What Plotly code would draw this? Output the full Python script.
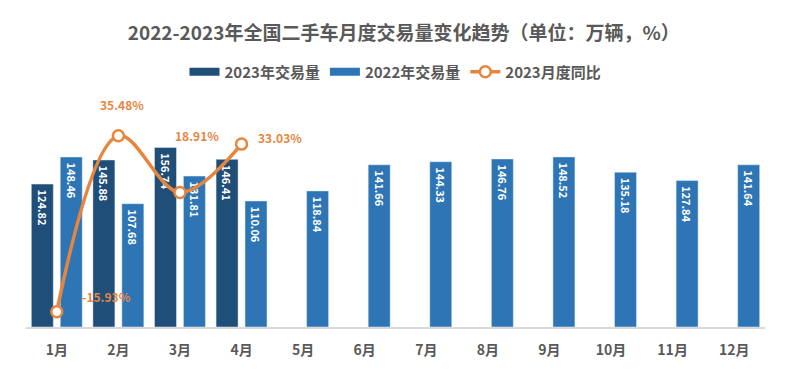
import plotly.graph_objects as go

months = ["1月", "2月", "3月", "4月", "5月", "6月", "7月", "8月", "9月", "10月", "11月", "12月"]
vol_2023 = [124.82, 145.88, 156.74, 146.41, None, None, None, None, None, None, None, None]
vol_2022 = [148.46, 107.68, 131.81, 110.06, 118.84, 141.66, 144.33, 146.76, 148.52, 135.18, 127.84, 141.64]
yoy_2023 = [-15.93, 35.48, 18.91, 33.03]
yoy_labels = ["-15.93%", "35.48%", "18.91%", "33.03%"]

# label offsets (px) for the line's data labels - style only
label_dx = [50, 4, 17, 38]
label_dy = [15, 31, 57, 7]

FONT = "Noto Sans CJK SC"
C23 = "#1F4E79"
C22 = "#2E75B6"
CLINE = "#E8853D"
GRAY = "#595959"
PAD = "\u00a0"  # small leading gap for in-bar labels


def bar_text(vals):
    return [f"{PAD}{v:.2f}" if v is not None else "" for v in vals]


fig = go.Figure()
fig.add_trace(go.Bar(
    x=months, y=vol_2023, name="2023年交易量", marker_color=C23, showlegend=False,
    text=bar_text(vol_2023),
    textposition="inside", insidetextanchor="end", textangle=90,
    textfont=dict(family=FONT, size=13, color="white", weight="bold"),
))
fig.add_trace(go.Bar(
    x=months, y=vol_2022, name="2022年交易量", marker_color=C22, showlegend=False,
    text=bar_text(vol_2022),
    textposition="inside", insidetextanchor="end", textangle=90,
    textfont=dict(family=FONT, size=13, color="white", weight="bold"),
))
# legend-only entries (wide rectangular swatches)
fig.add_trace(go.Scatter(x=[None], y=[None], mode="lines", name="2023年交易量",
                         line=dict(color=C23, width=8)))
fig.add_trace(go.Scatter(x=[None], y=[None], mode="lines", name="2022年交易量",
                         line=dict(color=C22, width=8)))
fig.add_trace(go.Scatter(
    x=months[:4], y=yoy_2023, name="2023月度同比", yaxis="y2",
    mode="lines+markers",
    line=dict(color=CLINE, width=3.5, shape="spline", smoothing=1.0),
    marker=dict(symbol="circle", size=11, color="white", line=dict(color=CLINE, width=2.5)),
))

for m, v, t, dx, dy in zip(months[:4], yoy_2023, yoy_labels, label_dx, label_dy):
    fig.add_annotation(
        x=m, y=v, yref="y2", text=t, showarrow=False,
        xshift=dx, yshift=dy,
        font=dict(family=FONT, size=12, color=CLINE, weight="bold"),
    )

W, H = 779, 365
fig.update_layout(
    width=W, height=H,
    margin=dict(l=18, r=22, t=90, b=46, autoexpand=False),
    paper_bgcolor="white", plot_bgcolor="white",
    barmode="group", bargap=0.06, bargroupgap=0.24,
    title=dict(
        text="2022-2023年全国二手车月度交易量变化趋势（单位：万辆，%）",
        x=0.508, xanchor="center", y=1 - 25 / H, yanchor="middle",
        font=dict(family=FONT, size=19, color=GRAY, weight="bold"),
    ),
    legend=dict(
        orientation="h", x=0.5, xanchor="center", y=1 + 26 / 229, yanchor="middle",
        font=dict(family=FONT, size=15, color=GRAY, weight="bold"),
        itemwidth=30, tracegroupgap=0,
    ),
    xaxis=dict(
        range=[-0.5, len(months) - 0.5], autorange=False,
        showline=True, linecolor="#D9D9D9", linewidth=1.5, ticks="",
        ticklabelstandoff=9,
        tickfont=dict(family=FONT, size=14, color=GRAY, weight="bold"),
        showgrid=False, automargin=False,
    ),
    yaxis=dict(range=[0, 200], visible=False, showgrid=False, zeroline=False, automargin=False),
    yaxis2=dict(range=[-20.4, 46.5], overlaying="y", side="right", visible=False,
                showgrid=False, zeroline=False, automargin=False),
    showlegend=True,
)

fig.write_html("out.html")
